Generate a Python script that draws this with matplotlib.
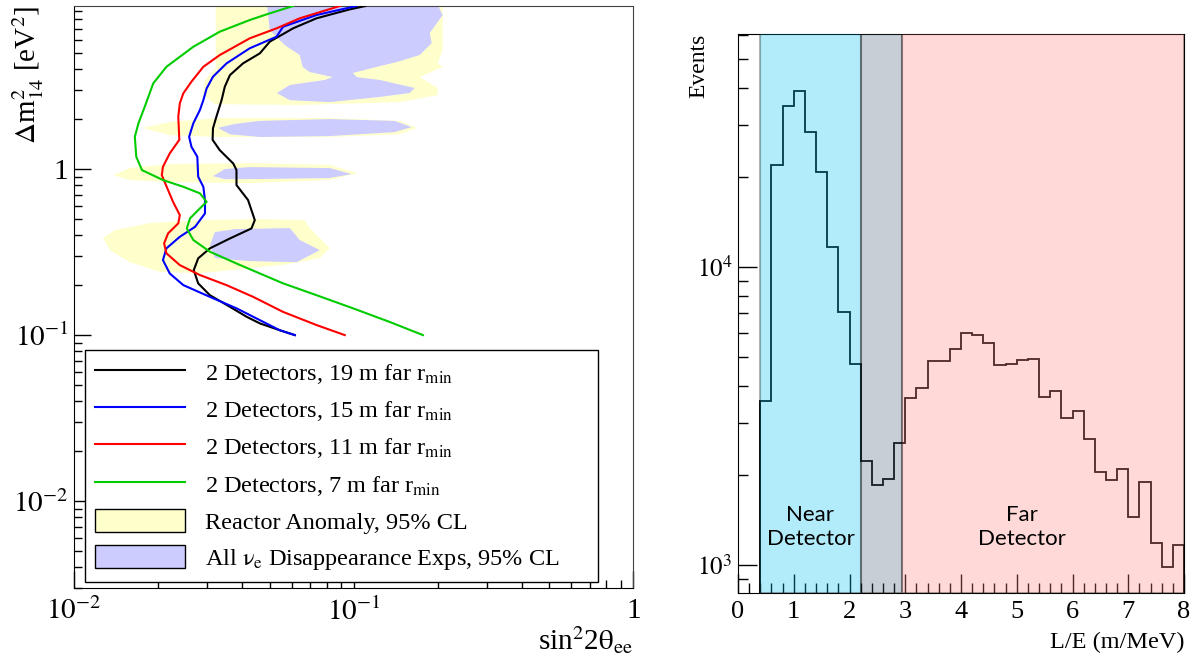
import numpy as np
import matplotlib.pyplot as plt
from matplotlib.lines import Line2D
from matplotlib.patches import Patch
from matplotlib.ticker import FuncFormatter, LogLocator, MultipleLocator, NullFormatter

plt.rcParams['font.family'] = ['Liberation Serif', 'DejaVu Serif']
plt.rcParams['mathtext.fontset'] = 'stix'

# ---- left panel: sensitivity curves (sin^2 2theta, dm^2) ----
x19 = [0.110, 0.0968, 0.0736, 0.0607, 0.0501, 0.0462, 0.0402, 0.0361, 0.0346, 0.0337, 0.0323,
       0.0314, 0.0313, 0.0332, 0.0371, 0.0381, 0.0381, 0.0419, 0.0443, 0.0431, 0.0361, 0.0306,
       0.0278, 0.0268, 0.0278, 0.0306, 0.0361, 0.0414, 0.0462, 0.0544, 0.0616]
y19 = [9.59, 9.16, 8.09, 7.04, 5.85, 4.98, 4.33, 3.68, 3.13, 2.60, 2.07,
       1.76, 1.50, 1.30, 1.08, 0.986, 0.801, 0.651, 0.493, 0.439, 0.382, 0.333,
       0.290, 0.246, 0.205, 0.174, 0.148, 0.129, 0.1176, 0.107, 0.100]

x15 = [0.1022, 0.0736, 0.0559, 0.0530, 0.0425, 0.0351, 0.0314, 0.0298, 0.0290, 0.0282, 0.0267,
       0.0258, 0.0263, 0.0276, 0.0278, 0.0290, 0.0294, 0.0294, 0.0271, 0.0239, 0.0214, 0.0208,
       0.0220, 0.0246, 0.0306, 0.0381, 0.0462, 0.0544, 0.0616]
y15 = [9.59, 8.47, 7.20, 6.27, 5.34, 4.33, 3.60, 3.06, 2.60, 2.27, 1.885,
       1.565, 1.362, 1.186, 0.899, 0.782, 0.651, 0.541, 0.449, 0.391, 0.333, 0.283,
       0.235, 0.200, 0.170, 0.145, 0.123, 0.107, 0.100]

x11 = [0.0891, 0.0641, 0.0530, 0.0425, 0.0332, 0.0290, 0.0263, 0.0246, 0.0239, 0.0236, 0.0238,
       0.0220, 0.0208, 0.0206, 0.0217, 0.0226, 0.0239, 0.0236, 0.0217, 0.0210, 0.0214, 0.0239,
       0.0282, 0.0351, 0.0437, 0.0559, 0.0736, 0.0929]
y11 = [9.59, 8.09, 7.04, 6.13, 4.86, 4.13, 3.36, 2.86, 2.49, 2.07, 1.50,
       1.243, 1.032, 0.920, 0.747, 0.635, 0.528, 0.471, 0.410, 0.357, 0.311, 0.264,
       0.230, 0.200, 0.170, 0.138, 0.115, 0.100]

x7 = [0.0607, 0.0501, 0.0425, 0.0332, 0.0267, 0.0214, 0.0192, 0.0179, 0.0170, 0.0165, 0.0167,
      0.0175, 0.0208, 0.0246, 0.0282, 0.0298, 0.0282, 0.0260, 0.0253, 0.0267, 0.0306, 0.0381,
      0.0462, 0.0559, 0.0736, 0.0994, 0.1345, 0.1768]
y7 = [9.59, 8.67, 7.90, 6.72, 5.45, 4.13, 3.28, 2.37, 1.885, 1.565, 1.186,
      0.986, 0.859, 0.782, 0.714, 0.635, 0.580, 0.505, 0.439, 0.374, 0.318, 0.270,
      0.235, 0.205, 0.174, 0.145, 0.120, 0.100]

# allowed regions, as outlines (sin^2 2theta, dm^2)
ra_x = [[0.0321, 0.208, 0.208, 0.1995, 0.208, 0.172, 0.1995, 0.1995, 0.146, 0.0641, 0.0319, 0.0289, 0.0294, 0.0321],
        [0.0176, 0.0220, 0.0332, 0.0821, 0.146, 0.168, 0.146, 0.0821, 0.0332, 0.0220],
        [0.0138, 0.01585, 0.022, 0.0425, 0.0821, 0.1033, 0.0821, 0.0425, 0.022, 0.01585],
        [0.0127, 0.0140, 0.0187, 0.0282, 0.0462, 0.0668, 0.0696, 0.0821, 0.0756, 0.0591, 0.0425,
         0.0282, 0.0203, 0.01585, 0.01345]]
ra_y = [[10, 10, 5.21, 4.35, 4.12, 3.58, 3.08, 2.79, 2.53, 2.43, 2.46, 2.79, 3.44, 4.06],
        [1.77, 1.92, 2.03, 2.03, 1.95, 1.77, 1.62, 1.56, 1.56, 1.60],
        [0.920, 1.014, 1.072, 1.087, 1.057, 0.946, 0.859, 0.823, 0.835, 0.859],
        [0.384, 0.429, 0.473, 0.493, 0.500, 0.493, 0.441, 0.334, 0.291, 0.268, 0.253,
         0.236, 0.240, 0.275, 0.325]]

dis_x = [[0.0489, 0.198, 0.208, 0.187, 0.190, 0.172, 0.1424, 0.124, 0.0992, 0.1025, 0.124, 0.165,
          0.1585, 0.124, 0.0821, 0.0591, 0.0531, 0.0591, 0.0788, 0.0841, 0.0696, 0.0657, 0.0641,
          0.0567, 0.0501],
         [0.0327, 0.0376, 0.0462, 0.0821, 0.140, 0.161, 0.140, 0.0821, 0.0462, 0.0361],
         [0.0314, 0.0346, 0.0425, 0.0821, 0.0984, 0.0821, 0.0425, 0.0346],
         [0.0306, 0.0319, 0.0376, 0.0591, 0.0641, 0.0756, 0.0626, 0.0425, 0.0319]]
dis_y = [[10, 10, 8.47, 6.60, 5.74, 4.86, 4.41, 4.17, 3.79, 3.58, 3.44, 3.08,
          2.87, 2.72, 2.53, 2.60, 2.87, 3.21, 3.44, 3.58, 3.84, 4.12, 4.86,
          5.58, 6.87],
         [1.77, 1.87, 1.95, 2.00, 1.95, 1.79, 1.67, 1.58, 1.56, 1.62],
         [0.907, 1.0, 1.028, 1.014, 0.933, 0.883, 0.870, 0.870],
         [0.348, 0.417, 0.435, 0.441, 0.374, 0.325, 0.275, 0.279, 0.291]]

curve_labels = [r'2 Detectors, 19 m far r$_{\mathrm{min}}$',
                r'2 Detectors, 15 m far r$_{\mathrm{min}}$',
                r'2 Detectors, 11 m far r$_{\mathrm{min}}$',
                r'2 Detectors, 7 m far r$_{\mathrm{min}}$']
region_labels = ['Reactor Anomaly, 95% CL',
                 r'All $\mathrm{\nu}_{\mathrm{e}}$ Disappearance Exps, 95% CL']

# ---- right panel: L/E histogram ----
edges = np.round(np.arange(0.4, 8.01, 0.2), 2)
events = [3556, 21990, 34600, 39000, 28450, 20780, 11700, 7080, 4725,
          2239, 1855, 1944, 2572,
          3634, 3918, 4850, 4850, 5308, 6020, 5897, 5570, 4690, 4715, 4875, 4912,
          3670, 3836, 3105, 3280, 2654, 2048, 1925, 2096, 1445, 1900, 1183, 985, 1167]
near_range = (0.4, 2.2)
gap_range = (2.2, 2.94)
far_range = (2.94, 8.0)


def logfmt(v, pos):
    e = int(round(np.log10(v)))
    return '1' if e == 0 else r'$10^{%d}$' % e


fig = plt.figure(figsize=(11.93, 6.56), dpi=100)

# left
ax1 = fig.add_axes([0.062, 0.1037, 0.469, 0.8872])
for xs, ys in zip(ra_x, ra_y):
    ax1.fill(xs, ys, color='#ffffcc', lw=0, zorder=1)
for xs, ys in zip(dis_x, dis_y):
    ax1.fill(xs, ys, color='#ccccff', lw=0, zorder=2)
colors = ['black', '#0000ff', '#ff0000', '#00cc00']
for xs, ys, c in zip([x19, x15, x11, x7], [y19, y15, y11, y7], colors):
    ax1.plot(xs, ys, color=c, lw=1.5, zorder=3)
ax1.set_xscale('log')
ax1.set_yscale('log')
ax1.set_xlim(0.01, 1)
ax1.set_ylim(0.003, 9.6)
ax1.xaxis.set_major_formatter(FuncFormatter(logfmt))
ax1.yaxis.set_major_formatter(FuncFormatter(logfmt))
ax1.xaxis.set_minor_formatter(NullFormatter())
ax1.yaxis.set_minor_formatter(NullFormatter())
ax1.tick_params(which='both', direction='in', top=False, right=False, labelsize=21)
ax1.tick_params(which='major', length=12, width=1)
ax1.tick_params(which='minor', length=6, width=1)
ax1.tick_params(axis='x', pad=7)
ax1.tick_params(axis='y', pad=4)
for s in ['top', 'right']:
    ax1.spines[s].set_color('#444444')
ax1.set_xlabel(r'sin$^{2}$2$\mathrm{\theta}_{\mathrm{ee}}$', fontsize=21, loc='right')
ax1.xaxis.set_label_coords(1.0, -0.062)
ax1.set_ylabel(r'$\Delta$m$^{2}_{14}$ [eV$^{2}$]', fontsize=21, loc='top')
ax1.yaxis.set_label_coords(-0.05, 1.0)

handles = [Line2D([], [], color=c, lw=1.5) for c in colors]
handles += [Patch(facecolor='#ffffcc', edgecolor='black', lw=1),
            Patch(facecolor='#ccccff', edgecolor='black', lw=1)]
leg = ax1.legend(handles, curve_labels + region_labels, loc='lower left',
                 bbox_to_anchor=(0.0197, 0.0103, 0.917, 0.395), mode='expand',
                 fontsize=17.5, frameon=True, fancybox=False, edgecolor='black',
                 framealpha=1, borderaxespad=0, handlelength=3.7, handleheight=1.1,
                 handletextpad=0.8, labelspacing=0.46, borderpad=0.42)
leg.get_frame().set_linewidth(1)
leg.set_zorder(5)

# right
ax2 = fig.add_axes([0.6186, 0.096, 0.3739, 0.8522])
ax2.stairs(events, edges, color='black', lw=1.3, baseline=1, zorder=2)
ax2.axvspan(*near_range, facecolor='#02c0ee', edgecolor='black', alpha=0.3, lw=1.5, zorder=3)
ax2.axvspan(*gap_range, facecolor='#485f76', edgecolor='black', alpha=0.3, lw=1.5, zorder=3)
ax2.axvspan(*far_range, facecolor='#ff8480', edgecolor='black', alpha=0.3, lw=1.5, zorder=3)
ax2.set_yscale('log')
ax2.set_xlim(0, 8)
ax2.set_ylim(805, 60500)
ax2.xaxis.set_major_locator(MultipleLocator(1))
ax2.xaxis.set_minor_locator(MultipleLocator(0.2))
ax2.yaxis.set_major_formatter(FuncFormatter(logfmt))
ax2.yaxis.set_minor_formatter(NullFormatter())
ax2.yaxis.set_minor_locator(LogLocator(subs=np.arange(2, 10)))
ax2.tick_params(which='both', direction='in', top=False, right=False)
ax2.tick_params(which='major', length=14, width=1)
ax2.tick_params(which='minor', length=7, width=1)
ax2.tick_params(axis='x', pad=6, labelsize=19)
ax2.tick_params(axis='y', pad=4, labelsize=18)
ax2.set_xlabel('L/E (m/MeV)', fontsize=17.5, loc='right')
ax2.xaxis.set_label_coords(1.0, -0.07)
ax2.set_ylabel('Events', fontsize=17, loc='top')
ax2.yaxis.set_label_coords(-0.064, 1.0)
ax2.text(1.3, 1340, 'Near\nDetector', fontsize=16, family=['Lato', 'DejaVu Sans'],
         ha='center', va='center', linespacing=1.25, zorder=4)
ax2.text(5.1, 1340, 'Far\nDetector', fontsize=16, family=['Lato', 'DejaVu Sans'],
         ha='center', va='center', linespacing=1.25, zorder=4)

fig.savefig('out.png', dpi=100)
